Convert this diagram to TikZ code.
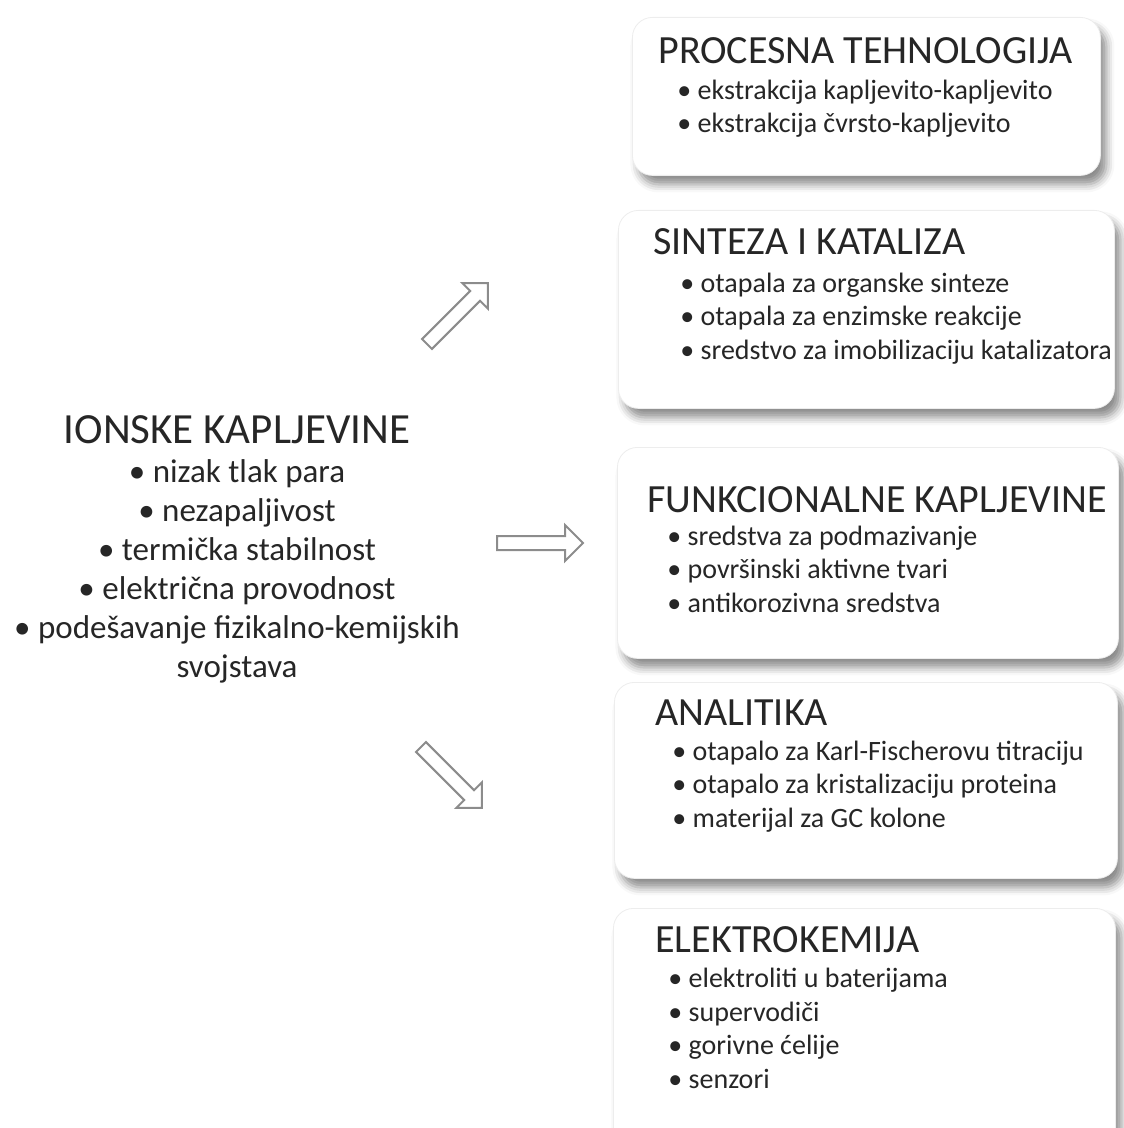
\documentclass[tikz,border=0pt]{standalone}
\usepackage{fontspec}
\setmainfont{Carlito}
\usetikzlibrary{positioning, shadows.blur}
\definecolor{inkgray}{HTML}{262626}
\definecolor{arrowgray}{HTML}{8C8C8C}

\tikzset{
  hollow arrow/.pic={
    \draw[arrowgray, line width=1pt, line join=miter]
      (0,-7) -- (68,-7) -- (68,-18) -- (86,0) -- (68,18) -- (68,7) -- (0,7) -- cycle;
  }
}

\begin{document}
\begin{tikzpicture}[x=0.5pt, y=0.5pt,
    appbox/.style={rounded corners=10pt, fill=white, draw=black!7, line width=0.4pt,
      inner sep=0pt, anchor=north west,
      blur shadow={shadow xshift=3pt, shadow yshift=-4.5pt, shadow blur radius=4pt, shadow opacity=45}},
    boxtitle/.style={anchor=base west, inner sep=0pt, text=inkgray, font=\fontsize{20}{24}\selectfont},
    boxlist/.style={anchor=base west, inner sep=0pt, align=left, text=inkgray, font=\fontsize{14}{16.75}\selectfont},
    maintitle/.style={anchor=base, inner sep=0pt, text=inkgray, font=\fontsize{21.5}{26}\selectfont},
    mainlist/.style={anchor=base, inner sep=0pt, align=center, text=inkgray, font=\fontsize{16.5}{19.5}\selectfont}]
    \useasboundingbox (0,0) rectangle (1123,-1128);

    % application boxes
    \node[appbox, minimum width=234pt, minimum height=79pt] (proc) at (632,-17) {};
    \node[appbox, minimum width=248pt, minimum height=99pt] (sint) at (618,-210) {};
    \node[appbox, minimum width=250.5pt, minimum height=105.5pt] (funk) at (617,-447) {};
    \node[appbox, minimum width=251.5pt, minimum height=98pt] (anal) at (614,-682) {};
    \node[appbox, minimum width=251pt, minimum height=126pt] (elek) at (613,-908) {};

    % lists sit on the baseline of their last line
    \node[boxtitle] (proc-t) at (658,-64) {PROCESNA TEHNOLOGIJA};
    \node[boxlist] (proc-l) at (677,-133) {\textbullet\ ekstrakcija kapljevito-kapljevito\\
      \textbullet\ ekstrakcija čvrsto-kapljevito};

    \node[boxtitle] (sint-t) at (653,-255) {SINTEZA I KATALIZA};
    \node[boxlist] (sint-l) at (680,-359) {\textbullet\ otapala za organske sinteze\\
      \textbullet\ otapala za enzimske reakcije\\
      \textbullet\ sredstvo za imobilizaciju katalizatora};

    \node[boxtitle] (funk-t) at (647,-512) {FUNKCIONALNE KAPLJEVINE};
    \node[boxlist] (funk-l) at (667,-612) {\textbullet\ sredstva za podmazivanje\\
      \textbullet\ površinski aktivne tvari\\
      \textbullet\ antikorozivna sredstva};

    \node[boxtitle] (anal-t) at (655,-725) {ANALITIKA};
    \node[boxlist] (anal-l) at (672,-827) {\textbullet\ otapalo za Karl-Fischerovu titraciju\\
      \textbullet\ otapalo za kristalizaciju proteina\\
      \textbullet\ materijal za GC kolone};

    \node[boxtitle] (elek-t) at (655,-952) {ELEKTROKEMIJA};
    \node[boxlist] (elek-l) at (668,-1088) {\textbullet\ elektroliti u baterijama\\
      \textbullet\ supervodiči\\
      \textbullet\ gorivne ćelije\\
      \textbullet\ senzori};

    % ionic liquids
    \node[maintitle] (ionske-t) at (237,-443) {IONSKE KAPLJEVINE};
    \node[mainlist] (ionske-l) at (237,-677) {\textbullet\ nizak tlak para\\
      \textbullet\ nezapaljivost\\
      \textbullet\ termička stabilnost\\
      \textbullet\ električna provodnost\\
      \textbullet\ podešavanje fizikalno-kemijskih\\
      svojstava};

    % arrows
    \pic[rotate=45] at (427,-344) {hollow arrow};
    \pic at (497,-543) {hollow arrow};
    \pic[rotate=-45] at (421,-747) {hollow arrow};
\end{tikzpicture}
\end{document}
